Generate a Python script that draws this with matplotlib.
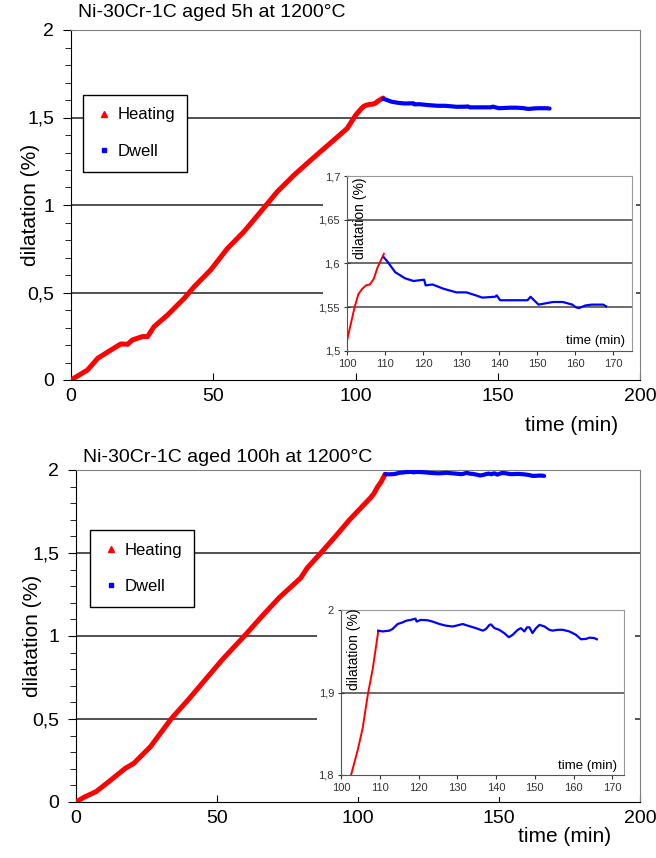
import matplotlib
matplotlib.use('Agg')
import matplotlib.pyplot as plt
from matplotlib.lines import Line2D
from matplotlib.ticker import FuncFormatter, MultipleLocator, FixedLocator

plt.rcParams['font.family'] = ['Liberation Sans', 'DejaVu Sans']

W, H = 656, 858

# --- aged 5h ---
heat_5h_t = [0, 5.8, 9.4, 14, 17.5, 19.9, 21.6, 25.1, 26.9, 29.2, 33.9, 39.8, 43.3, 49.1, 55,
             60.8, 66.7, 72.5, 78.4, 83, 87.7, 92.4, 97.1, 100, 102, 103, 104, 105, 106, 107,
             108, 109.7]
heat_5h_d = [0, 0.057, 0.124, 0.171, 0.206, 0.204, 0.229, 0.248, 0.248, 0.305, 0.371, 0.467,
             0.533, 0.629, 0.752, 0.848, 0.962, 1.076, 1.171, 1.238, 1.305, 1.371, 1.438, 1.512,
             1.55, 1.565, 1.571, 1.575, 1.576, 1.582, 1.595, 1.611]
dwell_5h_t = [109.7, 110.5, 112.7, 115.3, 117.5, 120.3, 120.7, 122.5, 125.5, 128.8, 131.4,
              133.9, 135.6, 139, 139.4, 140.3, 143, 147.5, 148.3, 150.4, 154.2, 156.8, 159.3,
              160.2, 161, 162.7, 164.4, 167.4, 168.2]
dwell_5h_d = [1.607, 1.603, 1.590, 1.583, 1.580, 1.5815, 1.575, 1.576, 1.571, 1.567, 1.567,
              1.5636, 1.561, 1.562, 1.5636, 1.558, 1.558, 1.558, 1.562, 1.553, 1.556, 1.556,
              1.553, 1.550, 1.549, 1.552, 1.553, 1.553, 1.551]

# --- aged 100h ---
heat_100h_t = [0, 3, 7.1, 11.6, 17.5, 20.5, 26.4, 33.7, 40, 46, 52, 59.7, 66, 72, 79.7, 82,
               86.8, 92, 97, 102.6, 104.3, 105.6, 106.9, 108.2, 109.6]
heat_100h_d = [0, 0.03, 0.062, 0.122, 0.203, 0.233, 0.333, 0.5, 0.62, 0.74, 0.86, 1.0, 1.12,
               1.23, 1.35, 1.41, 1.5, 1.6, 1.7, 1.80, 1.83, 1.857, 1.897, 1.929, 1.974]
dwell_100h_t = [109.6, 110.7, 112.5, 113.3, 114.6, 115.9, 116.8, 118, 119.2, 119.5, 120.6,
                122.4, 123.6, 125.4, 127.1, 128.8, 129.7, 131.4, 132.7, 134.8, 136.6, 137.4,
                138.3, 138.7, 139.6, 140.8, 142.1, 143.3, 144.3, 145.6, 146.4, 147.3, 148,
                148.6, 149.4, 150.3, 151.2, 152.5, 153.7, 154.6, 155.9, 157.2, 158.9, 160.6,
                161.9, 163.2, 164.1, 165.3, 166]
dwell_100h_d = [1.975, 1.974, 1.975, 1.977, 1.983, 1.985, 1.987, 1.988, 1.9895, 1.986, 1.988,
                1.9875, 1.986, 1.983, 1.981, 1.980, 1.981, 1.983, 1.981, 1.978, 1.975, 1.977,
                1.982, 1.9825, 1.978, 1.976, 1.972, 1.967, 1.970, 1.976, 1.978, 1.974, 1.979,
                1.979, 1.972, 1.978, 1.982, 1.980, 1.976, 1.975, 1.976, 1.976, 1.974, 1.970,
                1.9645, 1.965, 1.9665, 1.966, 1.9645]

titles = ['Ni-30Cr-1C aged 5h at 1200°C', 'Ni-30Cr-1C aged 100h at 1200°C']


def fr(x0, y0, x1, y1):
    return [x0 / W, 1 - y1 / H, (x1 - x0) / W, (y1 - y0) / H]


comma = FuncFormatter(lambda v, p: ('%g' % v).replace('.', ','))

fig = plt.figure(figsize=(W / 100, H / 100), dpi=100)


def panel(rect, patch, inset, legpos, title, tt, xl, yl, ht, hd, dt, dd, ins_ylim, ins_ticks,
          ins_grid, ins_xmax):
    ax = fig.add_axes(fr(*rect))
    ax.set_xlim(0, 200)
    ax.set_ylim(0, 2)
    ax.xaxis.set_major_locator(MultipleLocator(50))
    ax.yaxis.set_major_locator(MultipleLocator(0.5))
    ax.yaxis.set_minor_locator(MultipleLocator(0.1))
    ax.yaxis.set_major_formatter(comma)
    for v in [0.5, 1, 1.5]:
        ax.axhline(v, color='#333333', lw=1.2, zorder=1)
    ax.plot(ht, hd, color='#ff0000', lw=3.6, zorder=3, solid_capstyle='round')
    ax.plot(dt, dd, color='#0000ff', lw=3.0, zorder=3, solid_capstyle='round')
    ax.tick_params(axis='y', which='major', direction='out', length=6, labelsize=14, pad=6)
    ax.tick_params(axis='y', which='minor', direction='out', length=4)
    ax.tick_params(axis='x', direction='in', length=5, labelsize=14, pad=6)
    ax.spines['left'].set_color('black')
    ax.spines['bottom'].set_color('black')
    for s in ['top', 'right']:
        ax.spines[s].set_color('#808080')
    ax.text(0.012, tt, title, transform=ax.transAxes, fontsize=14, ha='left', va='center')
    ax.text(xl[0], xl[1], 'time (min)', transform=ax.transAxes, fontsize=15, ha='center', va='center')
    ax.text(yl[0], yl[1], 'dilatation (%)', transform=ax.transAxes, fontsize=15,
            ha='center', va='center', rotation=90)

    handles = [Line2D([], [], ls='none', marker='^', ms=4, color='#ff0000'),
               Line2D([], [], ls='none', marker='s', ms=3, color='#0000ff')]
    leg = ax.legend(handles, ['Heating', 'Dwell'], loc='upper left',
                    bbox_to_anchor=(legpos[0] / W, 1 - legpos[1] / H),
                    bbox_transform=fig.transFigure, borderaxespad=0, fontsize=12,
                    fancybox=False, framealpha=1, edgecolor='black', labelspacing=1.3,
                    borderpad=0.75, handlelength=1.0, handletextpad=0.3)
    leg.get_frame().set_linewidth(1.0)
    leg.set_zorder(5)

    # white background behind the inset chart
    bg = fig.add_axes(fr(*patch))
    bg.set_xticks([])
    bg.set_yticks([])
    for s in bg.spines.values():
        s.set_visible(False)

    ia = fig.add_axes(fr(*inset))
    ia.set_xlim(100, ins_xmax)
    ia.set_ylim(*ins_ylim)
    ia.xaxis.set_major_locator(FixedLocator(range(100, 171, 10)))
    ia.yaxis.set_major_locator(FixedLocator(ins_ticks))
    ia.yaxis.set_major_formatter(comma)
    for v in ins_grid:
        ia.axhline(v, color='#444444', lw=1.1, zorder=1)
    ia.plot(ht, hd, color='#ff0000', lw=1.4, zorder=3)
    ia.plot(dt, dd, color='#0000ff', lw=1.6, zorder=3)
    ia.tick_params(labelsize=8, length=3, colors='#333333', pad=3)
    ia.tick_params(axis='y', direction='inout', length=4)
    for s in ['top', 'right']:
        ia.spines[s].set_color('#999999')
    for s in ['left', 'bottom']:
        ia.spines[s].set_color('#555555')
    ia.text(0.045, 0.76, 'dilatation (%)', transform=ia.transAxes, fontsize=10,
            rotation=90, ha='center', va='center')
    ia.text(0.977, 0.055, 'time (min)', transform=ia.transAxes, fontsize=9.5,
            ha='right', va='center')
    return ax


panel((71, 30, 640, 380), (323, 165, 636, 372), (347, 176, 632, 351), (83, 95),
      titles[0], 1.051, (0.879, -0.129), (-0.072, 0.5),
      heat_5h_t, heat_5h_d, dwell_5h_t, dwell_5h_d,
      (1.5, 1.7), [1.5, 1.55, 1.6, 1.65, 1.7], [1.55, 1.6, 1.65], 175)

panel((76, 470, 640, 802), (317, 598, 635, 797), (341, 610, 624, 775), (90, 530),
      titles[1], 1.039, (0.866, -0.105), (-0.078, 0.5),
      heat_100h_t, heat_100h_d, dwell_100h_t, dwell_100h_d,
      (1.8, 2.0), [1.8, 1.9, 2.0], [1.9], 173)

fig.savefig('out.png', dpi=100)
